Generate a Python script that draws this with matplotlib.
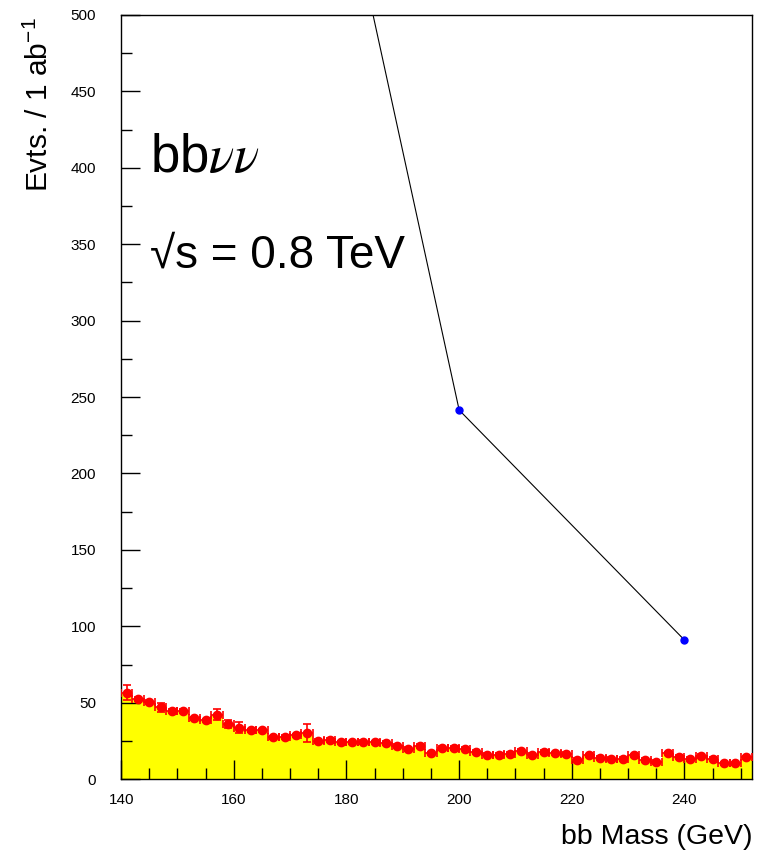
import matplotlib
matplotlib.use('Agg')
import matplotlib.pyplot as plt
import numpy as np
from matplotlib.ticker import MultipleLocator

plt.rcParams['font.family'] = ['Liberation Sans', 'DejaVu Sans']
plt.rcParams['mathtext.fontset'] = 'stix'

# background histogram, 2 GeV bins from 140 to 252
bin_edges = np.arange(140, 254, 2)
bin_centers = bin_edges[:-1] + 1
counts = [56.5, 52.3, 50.6, 46.9, 44.7, 44.5, 39.7, 38.4, 42.3, 36.2,
          33.8, 31.9, 31.9, 27.3, 27.5, 28.6, 29.9, 25.1, 25.7, 24.0,
          24.0, 24.4, 24.0, 23.8, 21.6, 19.6, 21.8, 16.8, 20.5, 20.5,
          20.0, 17.9, 16.1, 16.1, 16.6, 18.7, 16.0, 17.9, 16.8, 16.4,
          12.4, 15.5, 13.7, 13.5, 13.1, 15.5, 12.4, 11.3, 16.8, 14.6,
          13.2, 15.0, 13.1, 10.3, 10.3, 14.2]
errors = [4.9, 1.2, 1.2, 2.7, 1.2, 1.2, 1.2, 1.2, 3.3, 2.6,
          3.3, 1.2, 1.2, 1.2, 1.2, 1.2, 5.9, 1.2, 1.2, 1.2,
          1.2, 1.2, 1.2, 1.2, 1.2, 1.2, 1.2, 1.2, 1.2, 1.2,
          1.2, 1.2, 1.2, 1.2, 1.2, 1.2, 1.2, 1.2, 1.2, 1.2,
          1.2, 1.2, 1.2, 1.2, 1.2, 1.2, 1.2, 1.2, 1.2, 1.2,
          1.2, 1.2, 1.2, 1.2, 1.2, 1.2]

# signal curve (first point is off scale)
signal_mass = [160, 200, 240]
signal_evts = [918, 241.5, 91]

fig = plt.figure(figsize=(7.62, 8.6), dpi=100)
ax = fig.add_axes([0.159, 0.094, 0.828, 0.8886])

ax.stairs(counts, bin_edges, fill=True, color='#ffff00', zorder=1)
ax.errorbar(bin_centers, counts, yerr=errors, xerr=1, fmt='o', color='#ff0000',
            markersize=6, elinewidth=1.2, capsize=3, capthick=1.2, zorder=3)
ax.plot(signal_mass, signal_evts, color='black', linewidth=0.8, zorder=4)
ax.plot(signal_mass, signal_evts, 'o', color='#0000ff', markersize=5, zorder=5)

ax.set_xlim(140, 252)
ax.set_ylim(0, 500)
ax.xaxis.set_major_locator(MultipleLocator(20))
ax.xaxis.set_minor_locator(MultipleLocator(5))
ax.yaxis.set_major_locator(MultipleLocator(50))
ax.yaxis.set_minor_locator(MultipleLocator(25))
ax.tick_params(which='both', direction='in', top=False, right=False, labelsize=11)
ax.tick_params(which='major', length=14, width=1)
ax.tick_params(which='minor', length=8, width=1)
ax.tick_params(axis='y', pad=18)
ax.tick_params(axis='x', pad=10)
for s in ax.spines.values():
    s.set_linewidth(1)

ax.text(0.046, 0.795, r'bb$\nu\nu$', transform=ax.transAxes, fontsize=38,
        ha='left', va='baseline')
ax.text(0.046, 0.669, '\u221as = 0.8 TeV', transform=ax.transAxes,
        fontsize=33, ha='left', va='baseline')

fig.text(0.052, 0.98, r'Evts. / 1 ab$^{\mathregular{-1}}$', rotation=90,
         fontsize=21.5, ha='center', va='top')
fig.text(0.987, 0.012, 'bb Mass (GeV)', fontsize=20.5, ha='right', va='bottom')

fig.savefig('out.png', dpi=100)
